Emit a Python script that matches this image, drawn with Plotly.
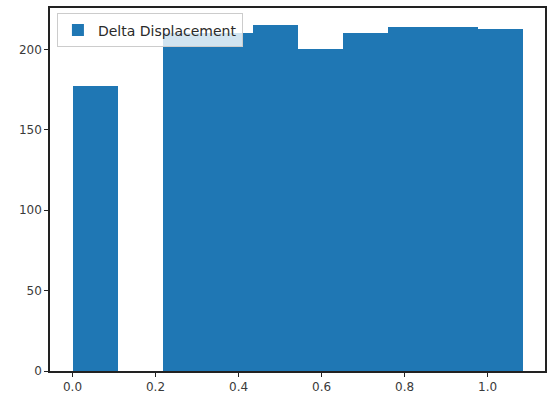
import plotly.graph_objects as go

bin_edges = [0.0, 0.1084, 0.2168, 0.3252, 0.4336, 0.542, 0.6504, 0.7588, 0.8672, 0.9756, 1.084]
counts = [177, 0, 210, 210, 215, 200, 210, 214, 214, 213]
series_name = "Delta Displacement"
x_ticks = [0.0, 0.2, 0.4, 0.6, 0.8, 1.0]
x_tick_labels = ["0.0", "0.2", "0.4", "0.6", "0.8", "1.0"]
y_ticks = [0, 50, 100, 150, 200]

centers = [(a + b) / 2 for a, b in zip(bin_edges[:-1], bin_edges[1:])]
widths = [b - a for a, b in zip(bin_edges[:-1], bin_edges[1:])]

fig = go.Figure()
fig.add_trace(go.Bar(x=centers, y=counts, width=widths, name=series_name,
                     marker=dict(color="#1f77b4", line=dict(width=0)),
                     showlegend=True))

span = bin_edges[-1] - bin_edges[0]
fig.update_layout(
    width=553, height=400,
    margin=dict(l=50, r=7, t=6, b=27),
    paper_bgcolor="white", plot_bgcolor="white",
    font=dict(family="DejaVu Sans", size=12, color="#3a3a3a"),
    bargap=0,
    showlegend=True,
    legend=dict(x=0.014, y=0.985, xanchor="left", yanchor="top",
                bgcolor="rgba(255,255,255,0.8)", bordercolor="#cccccc", borderwidth=1,
                font=dict(size=14, color="#2a2a2a"), tracegroupgap=0),
    xaxis=dict(range=[bin_edges[0] - 0.05 * span, bin_edges[-1] + 0.05 * span],
               tickvals=x_ticks, ticktext=x_tick_labels,
               showline=True, linecolor="#222222", linewidth=1.5, mirror=True,
               ticks="outside", ticklen=4, tickcolor="#222222", showgrid=False, zeroline=False),
    yaxis=dict(range=[0, max(counts) * 1.05], tickvals=y_ticks,
               showline=True, linecolor="#222222", linewidth=1.5, mirror=True,
               ticks="outside", ticklen=4, tickcolor="#222222", showgrid=False, zeroline=False),
)
fig.write_html("out.html", config={"displayModeBar": False},
               post_script="document.body.style.margin='0';")
